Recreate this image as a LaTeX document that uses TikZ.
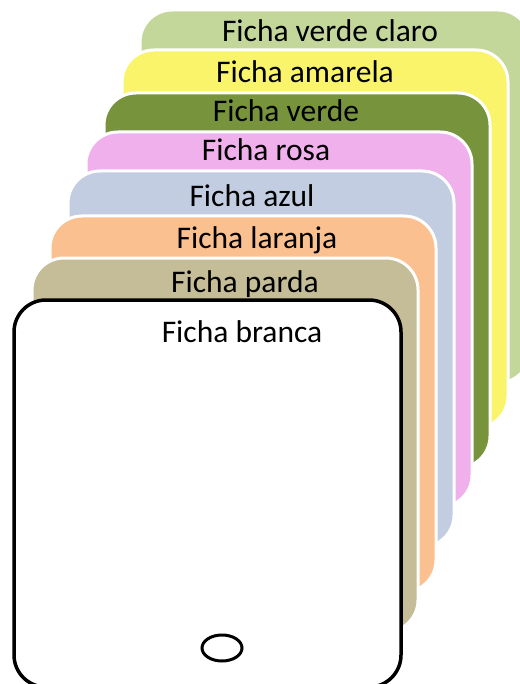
\documentclass[tikz,border=0pt]{standalone}
\usepackage{fontspec}
\setmainfont{Carlito}
\usepackage{tikz}
\usepackage{xcolor}

\definecolor{verdeclaro}{HTML}{C4D79B}
\definecolor{amarela}{HTML}{F9F46A}
\definecolor{verde}{HTML}{77933C}
\definecolor{rosa}{HTML}{F0B0EC}
\definecolor{azul}{HTML}{C3CDE1}
\definecolor{laranja}{HTML}{FAC090}
\definecolor{parda}{HTML}{C4BD97}

\begin{document}
\begin{tikzpicture}[x=1pt, y=-1pt,
    card/.style={draw=white, line width=3pt, rounded corners=32pt},
    title/.style={font=\fontsize{31.5}{35}\selectfont, inner sep=0pt}]
    \useasboundingbox (0,0) rectangle (519,684);
    \begin{scope}
      \draw[card, fill=verdeclaro] (140,10) rectangle (530,383);
      \node[title] (claro) at (330,31) {Ficha verde claro};
      \draw[card, fill=amarela] (122,50) rectangle (508,428);
      \node[title] (amarela) at (305,72) {Ficha amarela};
      \draw[card, fill=verde] (104,93) rectangle (490,468);
      \node[title] (verde) at (286,111) {Ficha verde};
      \draw[card, fill=rosa] (86,132) rectangle (472,507);
      \node[title] (rosa) at (266,150) {Ficha rosa};
      \draw[card, fill=azul] (68,171) rectangle (454,547);
      \node[title] (azul) at (252,196) {Ficha azul};
      \draw[card, fill=laranja] (50,216) rectangle (436,592);
      \node[title] (laranja) at (257,240) {Ficha laranja};
      \draw[card, fill=parda] (32,258) rectangle (418,632);
      \node[title] (parda) at (245,284) {Ficha parda};
      \draw[card, draw=black, line width=3.5pt, fill=white] (14,300) rectangle (401,687);
      \node[title] (branca) at (242,332) {Ficha branca};
      \draw[line width=3pt] (222,648) ellipse (20 and 13);
    \end{scope}
  \end{tikzpicture}
\end{document}
